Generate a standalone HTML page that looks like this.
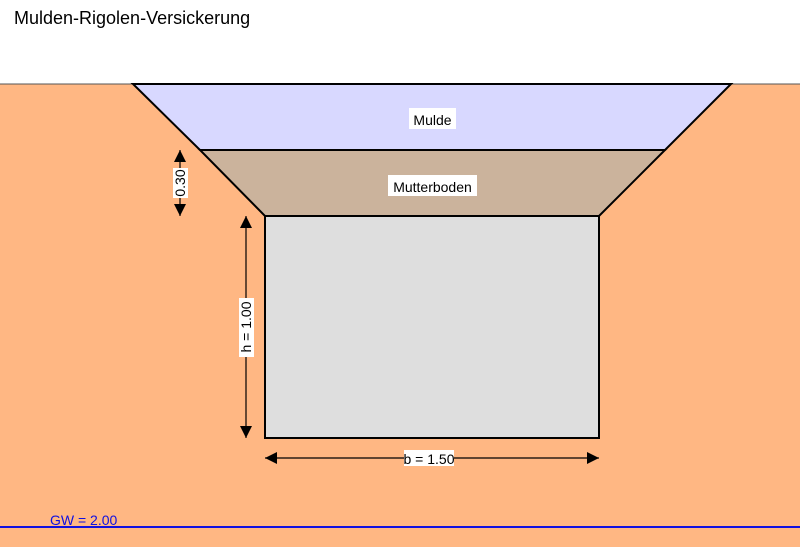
<!DOCTYPE html>
<html><head><meta charset="utf-8"><style>
html,body{margin:0;padding:0;background:#fff;}
svg{display:block;font-family:"Liberation Sans",Arial,sans-serif;}
</style></head><body>
<svg width="800" height="547" viewBox="0 0 800 547" xmlns="http://www.w3.org/2000/svg">
<defs>
<marker id="a" viewBox="0 0 10 10" refX="10" refY="5" markerWidth="12" markerHeight="12" markerUnits="userSpaceOnUse" orient="auto-start-reverse"><path d="M0,0 L10,5 L0,10 z" fill="#000"/></marker>
</defs>
<text x="14" y="24" font-size="18" fill="#000">Mulden-Rigolen-Versickerung</text>
<rect x="0" y="84" width="800" height="463" fill="#FFB783"/>
<line x1="0" y1="84" x2="800" y2="84" stroke="#555" stroke-width="1"/>
<polygon points="133,84 731,84 665,150 200,150" fill="#D8D8FF" stroke="#000" stroke-width="2"/>
<polygon points="200,150 665,150 599,216 265,216" fill="#CBB39C" stroke="#000" stroke-width="2"/>
<rect x="265" y="216" width="334" height="222" fill="#DEDEDE" stroke="#000" stroke-width="2"/>
<rect x="409" y="108" width="47" height="21" fill="#fff"/>
<text x="432.5" y="125" font-size="14" text-anchor="middle">Mulde</text>
<rect x="388" y="175" width="89" height="21" fill="#fff"/>
<text x="432.5" y="192" font-size="14" text-anchor="middle">Mutterboden</text>
<line x1="180" y1="150" x2="180" y2="216" stroke="#000" stroke-width="1.2" marker-start="url(#a)" marker-end="url(#a)"/>
<rect x="173" y="168" width="15" height="30" fill="#fff"/>
<text transform="translate(185,183) rotate(-90)" font-size="14" text-anchor="middle">0.30</text>
<line x1="246" y1="216" x2="246" y2="438" stroke="#000" stroke-width="1.2" marker-start="url(#a)" marker-end="url(#a)"/>
<rect x="239" y="298" width="15" height="59" fill="#fff"/>
<text transform="translate(251,327) rotate(-90)" font-size="14" text-anchor="middle">h = 1.00</text>
<line x1="265" y1="458" x2="599" y2="458" stroke="#000" stroke-width="1.2" marker-start="url(#a)" marker-end="url(#a)"/>
<rect x="404" y="450" width="50" height="16" fill="#fff"/>
<text x="429" y="464" font-size="14" text-anchor="middle">b = 1.50</text>
<line x1="0" y1="527" x2="800" y2="527" stroke="#1010E0" stroke-width="2"/>
<text x="50" y="525" font-size="14" fill="#1010E0">GW = 2.00</text>
</svg>
</body></html>
